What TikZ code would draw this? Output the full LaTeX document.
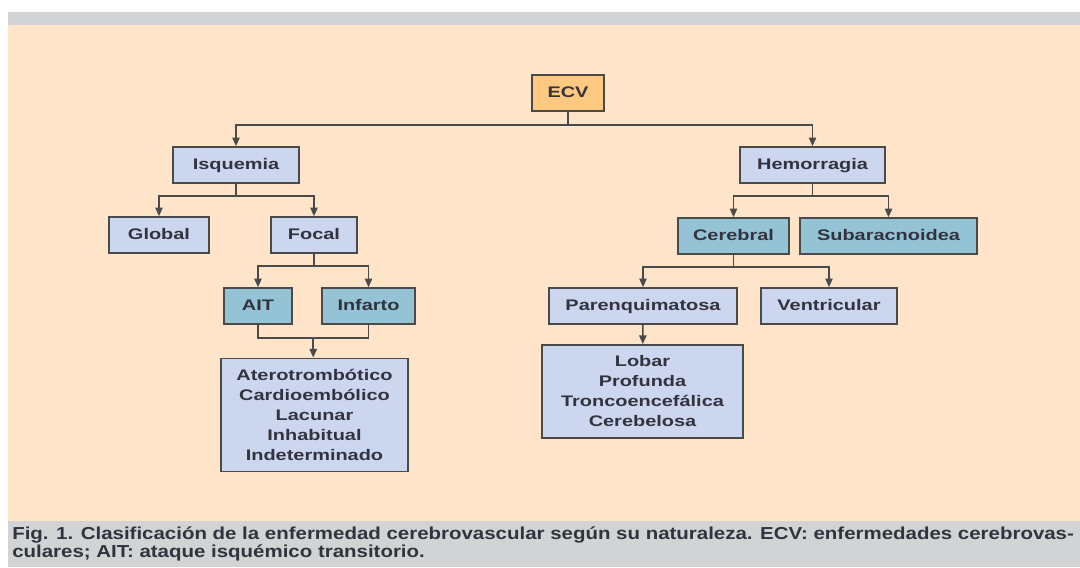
\documentclass[tikz,border=0pt]{standalone}
\usepackage{fontspec}
\usepackage{xcolor}
\usepackage{tikz}
\usetikzlibrary{arrows.meta,calc}
\newfontfamily\figfont[FakeStretch=1.3]{Liberation Sans}
\newfontfamily\capfont[FakeStretch=1.18]{Liberation Sans}
\definecolor{peach}{HTML}{FEE4C9}
\definecolor{band}{HTML}{D1D3D4}
\definecolor{lightbox}{HTML}{CCD6EE}
\definecolor{tealbox}{HTML}{95C3D6}
\definecolor{rootfill}{HTML}{FDC87F}
\definecolor{ink}{HTML}{33333F}
\definecolor{edge}{HTML}{4A4A4A}

\begin{document}
\begin{tikzpicture}[
        x=0.75pt, y=-0.75pt,
        font=\figfont\bfseries\fontsize{11.5}{15}\selectfont,
        listbox/.style={
            rectangle,
            draw=edge,
            line width=1.2pt,
            fill=lightbox,
            text=ink,
            align=center,
            inner sep=0pt
        },
        box/.style={
            listbox,
            text height=8.4pt,
            text depth=2.4pt,
            minimum height=27pt
        },
        tbox/.style={
            box,
            fill=tealbox
        },
        rootbox/.style={
            box,
            fill=rootfill
        },
        link/.style={
            draw=edge,
            line width=1.2pt,
            -{Triangle[length=6.5pt,width=5.5pt]}
        },
        bracket/.style={
            draw=edge,
            line width=1.2pt
        }
    ]
    \useasboundingbox (0,0) rectangle (1080,567);

    % Background bands
    \fill[band]  (8,12) rectangle (1080,25);
    \fill[peach] (8,25) rectangle (1080,521);
    \fill[band]  (8,521) rectangle (1080,567);

    % ---------- Root ----------
    \node[rootbox, minimum width=54pt] (ecv) at (568,93) {ECV};

    % ---------- Left branch: ischaemia ----------
    \node[box, minimum width=94.5pt] (isq)  at (236,165) {Isquemia};
    \node[box, minimum width=75pt]   (glob) at (159,235) {Global};
    \node[box, minimum width=64.5pt] (foc)  at (314,235) {Focal};
    \node[tbox, minimum width=51pt]  (ait)  at (258,306) {AIT};
    \node[tbox, minimum width=70pt]  (inf)  at (368.5,306) {Infarto};
    \node[listbox, minimum width=140pt, minimum height=85pt] (tipos) at (314.5,415)
        {Aterotrombótico\\Cardioembólico\\Lacunar\\Inhabitual\\Indeterminado};

    % ---------- Right branch: haemorrhage ----------
    \node[box, minimum width=109pt]  (hem) at (812.5,165) {Hemorragia};
    \node[tbox, minimum width=83pt]  (cer) at (733.5,236) {Cerebral};
    \node[tbox, minimum width=133pt] (sub) at (888.5,236) {Subaracnoidea};
    \node[box, minimum width=141pt]  (par) at (643,306) {Parenquimatosa};
    \node[box, minimum width=102pt]  (ven) at (829,306) {Ventricular};
    \node[listbox, minimum width=151pt, minimum height=70pt] (loc) at (642.5,391.5)
        {Lobar\\Profunda\\Troncoencefálica\\Cerebelosa};

    % Connectors
    \draw[link] (ecv.south) -- ++(0,13) -| (isq);
    \draw[link] (ecv.south) -- ++(0,13) -| (hem);
    \draw[link] (isq.south) -- ++(0,12) -| (glob);
    \draw[link] (isq.south) -- ++(0,12) -| (foc);
    \draw[link] (foc.south) -- ++(0,12) -| (ait);
    \draw[link] (foc.south) -- ++(0,12) -| (inf);
    \draw[bracket] (ait.south) -- ++(0,13) coordinate (aitd) -| (inf.south);
    \coordinate (mid) at ($(aitd)!0.5!(aitd -| inf.south)$);
    \draw[link] (mid) -- (mid |- tipos.north);
    \draw[link] (hem.south) -- ++(0,12) -| (cer);
    \draw[link] (hem.south) -- ++(0,12) -| (sub);
    \draw[link] (cer.south) -- ++(0,12) -| (par);
    \draw[link] (cer.south) -- ++(0,12) -| (ven);
    \draw[link] (par) -- (loc);

    % Caption
    \node[anchor=base west, align=left, text=ink, inner sep=0pt,
          font=\capfont\bfseries\fontsize{13}{11.25}\selectfont] (cap) at (12,557)
        {Fig. 1. Clasificación de la enfermedad cerebrovascular según su naturaleza. ECV: enfermedades cerebrovas-\\
         culares; AIT: ataque isquémico transitorio.};
\end{tikzpicture}
\end{document}
